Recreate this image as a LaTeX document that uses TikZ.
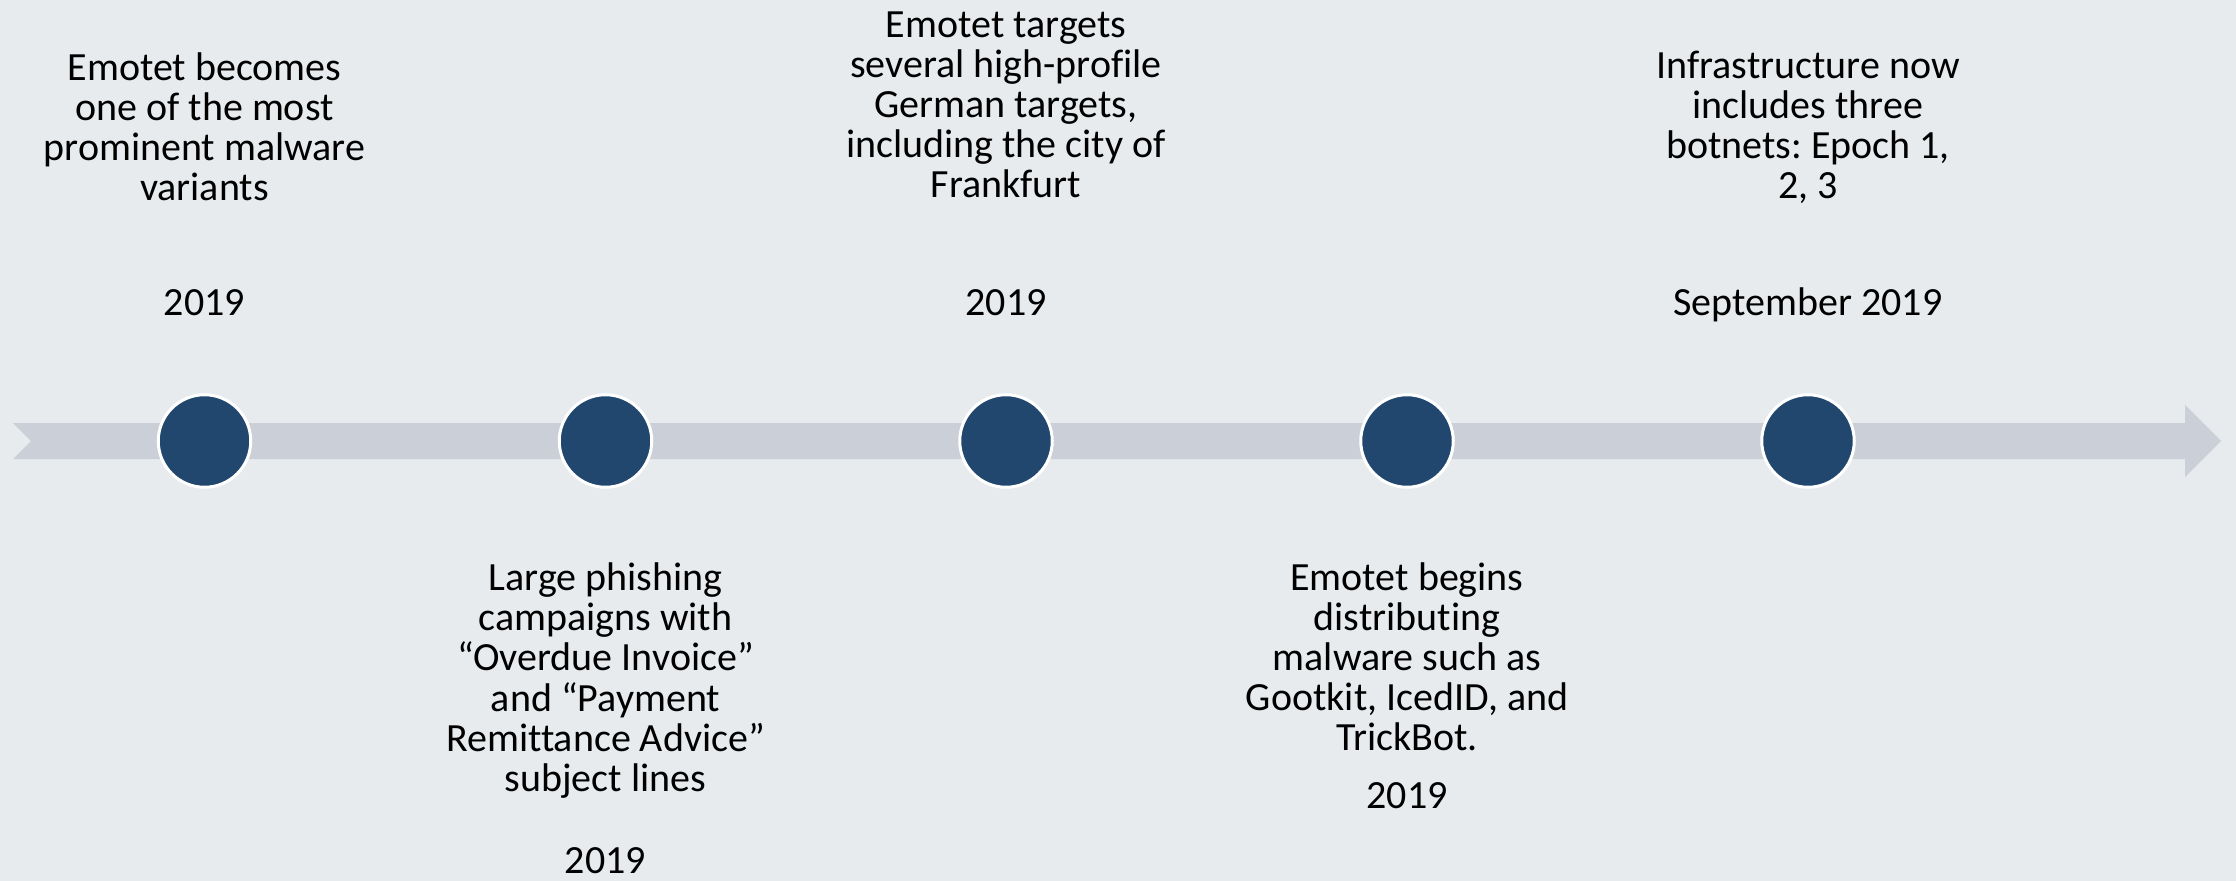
\documentclass[tikz,border=0pt]{standalone}
\usepackage{fontspec}
\setmainfont{Carlito}[Ligatures={NoCommon}]
\frenchspacing
\definecolor{bgc}{HTML}{E7EBEE}
\definecolor{bandc}{HTML}{CBCFD7}
\definecolor{dotc}{HTML}{21476F}
\newcommand\mylines[1]{\begin{tabular}[t]{@{}c@{}}#1\end{tabular}}
\tikzset{
  dot/.style={circle, fill=dotc, draw=white, line width=3pt, minimum size=92.5pt, inner sep=0pt},
  txt/.style={anchor=base, inner sep=0pt, font=\fontsize{40}{40}\selectfont, text=black},
}
\begin{document}
\begin{tikzpicture}[x=1pt, y=-1pt]
\fill[bgc] (0,0) rectangle (2236,881);
\useasboundingbox (0,0) rectangle (2236,881);
% timeline band with notch and arrow head
\fill[bandc] (13,423) -- (2185,423) -- (2185,405) -- (2221,441) -- (2185,477) -- (2185,459) -- (13,459) -- (31,441) -- cycle;
% event dots
\node[dot] (d1) at (204.5,441) {};
\node[dot] (d2) at (605.5,441) {};
\node[dot] (d3) at (1006,441) {};
\node[dot] (d4) at (1407,441) {};
\node[dot] (d5) at (1808,441) {};
% texts above
\node[txt] (t1) at (204.5,80) {\mylines{Emotet becomes\\one of the most\\prominent malware\\variants}};
\node[txt] (y1) at (204.5,315) {2019};
\node[txt] (t3) at (1006,37) {\mylines{Emotet targets\\several high-profile\\German targets,\\including the city of\\Frankfurt}};
\node[txt] (y3) at (1006,315) {2019};
\node[txt] (t5) at (1808,78) {\mylines{Infrastructure now\\includes three\\botnets: Epoch 1,\\2, 3}};
\node[txt] (y5) at (1808,315) {September 2019};
% texts below
\node[txt] (t2) at (605.5,590) {\mylines{Large phishing\\campaigns with\\“Overdue Invoice”\\and “Payment\\Remittance Advice”\\subject lines}};
\node[txt] (y2) at (605.5,873) {2019};
\node[txt] (t4) at (1407,590) {\mylines{Emotet begins\\distributing\\malware such as\\Gootkit, IcedID, and\\TrickBot.}};
\node[txt] (y4) at (1407,808) {2019};
\end{tikzpicture}
\end{document}
